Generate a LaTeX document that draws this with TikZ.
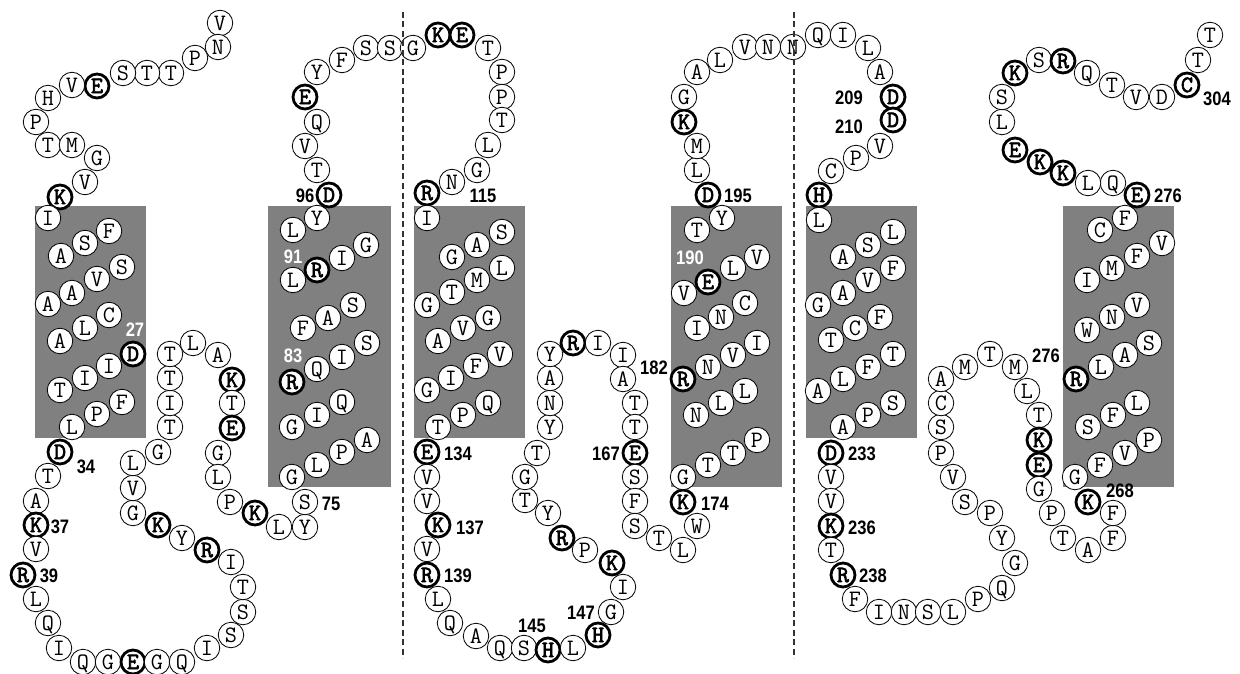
\documentclass[tikz,border=0pt]{standalone}
\usepackage{fontspec}
\setmainfont{Liberation Sans}
\newfontfamily\numfont[FakeStretch=0.85]{Liberation Sans}
\newfontfamily\resfont{Latin Modern Mono}
\newfontfamily\resboldfont[FakeBold=2.5]{Latin Modern Mono}
\definecolor{tmgray}{RGB}{128,128,128}
\tikzset{
  res/.style={circle, draw=black, line width=0.8pt, fill=white, minimum size=25.5pt, inner sep=0pt,
    text height=14.2pt, text depth=0pt, font=\resfont\fontsize{23.5}{23.5}\selectfont},
  resb/.style={res, line width=2.8pt, minimum size=24pt, font=\resboldfont\fontsize{23.5}{23.5}\selectfont},
  num/.style={inner sep=0pt, text height=14pt, text depth=0pt, font=\numfont\bfseries\fontsize{19.5}{19.5}\selectfont},
  numw/.style={num, text=white},
  tmbox/.style={fill=tmgray, draw=none},
  divider/.style={draw=black!80, line width=1.4pt, dash pattern=on 6pt off 3.5pt}
}
\begin{document}
\begin{tikzpicture}[x=1pt,y=-1pt]
\useasboundingbox (0,0) rectangle (1240,674);
% membrane helices
\fill[tmbox] (35,206) rectangle (146,438);
\fill[tmbox] (268,206) rectangle (391,487);
\fill[tmbox] (414,206) rectangle (525,438);
\fill[tmbox] (671,206) rectangle (782,487);
\fill[tmbox] (806,206) rectangle (917,438);
\fill[tmbox] (1063,206) rectangle (1174,487);
% segment A
\foreach \x/\y/\l/\s [count=\i] in {220/23/V/res, 218/47/N/res, 195/58/P/res, 171/73/T/res, 147/73/T/res, 123/73/S/res, 97/86/E/resb, 72/85/V/res, 48/98/H/res, 36/122/P/res, 48/145/T/res, 72/145/M/res, 97/158/G/res, 85/182/V/res, 60/197/K/resb, 48/218/I/res, 109/231/F/res, 85/243/S/res, 61/256/A/res, 122/267/S/res, 97/279/V/res, 72/293/A/res, 48/304/A/res, 109/315/C/res, 85/328/L/res, 60/341/A/res, 133/354/D/resb, 109/366/I/res, 85/378/I/res, 60/390/T/res, 122/402/F/res, 97/414/P/res, 72/427/L/res, 60/452/D/resb, 48/476/T/res, 36/501/A/res, 36/525/K/resb, 36/549/V/res, 23/575/R/resb, 36/599/L/res, 48/623/Q/res, 59/648/I/res, 83/662/Q/res, 108/662/G/res, 133/662/E/resb, 157/662/G/res, 182/662/Q/res, 207/648/I/res, 231/635/S/res, 243/612/S/res, 243/587/T/res, 231/562/I/res, 207/550/R/resb, 182/538/Y/res, 158/525/K/resb, 133/513/G/res, 133/488/V/res, 133/463/L/res, 158/452/G/res, 170/427/T/res, 170/403/I/res, 170/378/T/res, 170/354/T/res, 193/343/L/res, 218/355/A/res, 232/380/K/resb, 232/403/T/res, 232/428/E/resb, 218/453/G/res, 218/477/L/res, 230/502/P/res, 255/513/K/resb, 279/527/L/res, 305/527/Y/res, 305/502/S/res}
  \node[\s] (a\i) at (\x,\y) {\l};
% segment B
\foreach \x/\y/\l/\s [count=\i] in {292/477/G/res, 317/465/L/res, 342/452/P/res, 367/440/A/res, 292/427/G/res, 317/415/I/res, 342/402/Q/res, 292/382/R/resb, 317/369/Q/res, 342/357/I/res, 367/343/S/res, 303/328/F/res, 328/318/A/res, 353/305/S/res, 293/280/L/res, 317/270/R/resb, 342/258/I/res, 366/245/G/res, 293/230/L/res, 317/218/Y/res, 329/195/D/resb, 317/170/T/res, 305/146/V/res, 317/122/Q/res, 305/97/E/resb, 317/72/Y/res, 342/60/F/res, 366/48/S/res, 390/48/S/res, 413/48/G/res, 438/35/K/resb, 462/35/E/resb, 488/48/T/res, 502/72/P/res, 502/97/P/res, 502/120/T/res, 488/145/L/res, 477/170/G/res, 452/182/N/res, 427/193/R/resb}
  \node[\s] (b\i) at (\x,\y) {\l};
% segment C
\foreach \x/\y/\l/\s [count=\i] in {427/218/I/res, 502/232/S/res, 477/245/A/res, 452/257/G/res, 502/268/L/res, 477/280/M/res, 452/292/T/res, 427/305/G/res, 488/318/G/res, 463/328/V/res, 438/341/A/res, 500/354/V/res, 476/366/F/res, 451/378/I/res, 427/390/G/res, 488/403/Q/res, 463/415/P/res, 438/427/T/res, 427/452/E/resb, 427/477/V/res, 427/501/V/res, 438/525/K/resb, 427/549/V/res, 427/575/R/resb, 438/599/L/res, 450/623/Q/res, 476/636/A/res, 500/648/Q/res, 524/648/S/res, 548/650/H/resb, 573/648/L/res, 598/635/H/resb, 611/612/G/res, 623/587/I/res, 612/563/K/resb, 585/550/P/res, 562/538/R/resb, 548/513/Y/res, 525/500/T/res, 525/477/G/res, 537/453/T/res, 550/427/Y/res, 550/403/N/res, 550/378/A/res, 550/354/Y/res, 573/343/R/resb, 598/343/I/res, 623/355/I/res, 623/379/A/res, 635/403/T/res, 635/427/T/res, 635/453/E/resb, 635/477/S/res, 635/501/F/res, 635/526/S/res, 659/538/T/res, 683/550/L/res, 697/526/W/res, 683/502/K/resb}
  \node[\s] (c\i) at (\x,\y) {\l};
% segment D
\foreach \x/\y/\l/\s [count=\i] in {683/477/G/res, 708/465/T/res, 733/453/T/res, 757/440/P/res, 696/415/N/res, 721/403/L/res, 745/391/L/res, 683/379/R/resb, 708/367/N/res, 733/355/V/res, 757/343/I/res, 697/328/I/res, 721/317/N/res, 745/303/C/res, 684/293/V/res, 708/282/E/resb, 733/268/L/res, 757/257/V/res, 697/230/T/res, 722/218/Y/res, 708/195/D/resb, 697/170/L/res, 697/146/M/res, 684/122/K/resb, 684/97/G/res, 697/72/A/res, 720/60/L/res, 745/47/V/res, 768/47/N/res, 793/47/N/res, 818/35/Q/res, 843/35/I/res, 868/48/L/res, 880/72/A/res, 893/97/D/resb, 893/120/D/resb, 880/146/V/res, 856/158/P/res, 831/171/C/res, 819/195/H/resb}
  \node[\s] (d\i) at (\x,\y) {\l};
% segment E
\foreach \x/\y/\l/\s [count=\i] in {819/220/L/res, 893/232/L/res, 868/245/S/res, 843/257/A/res, 893/268/F/res, 868/280/V/res, 843/293/A/res, 818/305/G/res, 880/317/F/res, 855/328/C/res, 831/340/T/res, 893/354/T/res, 868/367/F/res, 843/379/L/res, 818/391/A/res, 893/403/S/res, 868/415/P/res, 843/427/A/res, 831/453/D/resb, 831/477/V/res, 831/501/V/res, 831/526/K/resb, 831/550/T/res, 843/575/R/resb, 855/599/F/res, 879/612/I/res, 904/612/N/res, 928/612/S/res, 953/612/L/res, 978/599/P/res, 1002/588/Q/res, 1015/563/G/res, 1002/538/Y/res, 990/513/P/res, 965/502/S/res, 953/477/V/res, 941/453/P/res, 941/427/S/res, 941/403/C/res, 941/379/A/res, 965/367/M/res, 990/354/T/res, 1015/367/M/res, 1027/391/L/res, 1039/415/T/res, 1039/440/K/resb, 1039/465/E/resb, 1039/489/G/res, 1052/513/P/res, 1063/538/T/res, 1088/550/A/res, 1113/538/F/res, 1113/513/F/res, 1088/502/K/resb}
  \node[\s] (e\i) at (\x,\y) {\l};
% segment F
\foreach \x/\y/\l/\s [count=\i] in {1075/477/G/res, 1100/465/F/res, 1125/453/V/res, 1149/440/P/res, 1088/427/S/res, 1113/415/F/res, 1137/403/L/res, 1076/379/R/resb, 1101/367/L/res, 1125/355/A/res, 1149/343/S/res, 1087/330/W/res, 1112/317/N/res, 1137/305/V/res, 1087/280/I/res, 1112/268/M/res, 1137/256/F/res, 1162/243/V/res, 1100/230/C/res, 1125/218/F/res, 1137/195/E/resb, 1113/183/Q/res, 1088/183/L/res, 1063/173/K/resb, 1040/162/K/resb, 1015/150/E/resb, 1002/122/L/res, 1002/97/S/res, 1015/73/K/resb, 1039/60/S/res, 1063/61/R/resb, 1087/73/Q/res, 1112/85/T/res, 1136/97/V/res, 1162/97/D/res, 1187/85/C/resb, 1198/60/T/res, 1210/35/T/res}
  \node[\s] (f\i) at (\x,\y) {\l};
% numbers
\foreach \x/\y/\t [count=\i] in {135/329/27, 293/256/91, 293/355/83, 690/257/190}
  \node[numw] (w\i) at (\x,\y) {\t};
\foreach \x/\y/\t [count=\i] in {86/466/34, 60/526/37, 49/575/39, 331/503/75, 305/195/96, 483/195/115, 458/453/134, 470/527/137, 458/575/139, 532/625/145, 581/612/147, 606/453/167, 654/367/182, 715/503/174, 738/195/195, 849/98/209, 849/127/210, 862/453/233, 862/527/236, 873/575/238, 1120/490/268, 1046/355/276, 1168/196/276, 1217/99/304}
  \node[num] (k\i) at (\x,\y) {\t};
% dividers
\coordinate (t1) at (403,12); \coordinate (u1) at (403,658);
\coordinate (t2) at (794,12); \coordinate (u2) at (794,658);
\draw[divider] (t1) -- (u1);
\draw[divider] (t2) -- (u2);
\end{tikzpicture}
\end{document}
